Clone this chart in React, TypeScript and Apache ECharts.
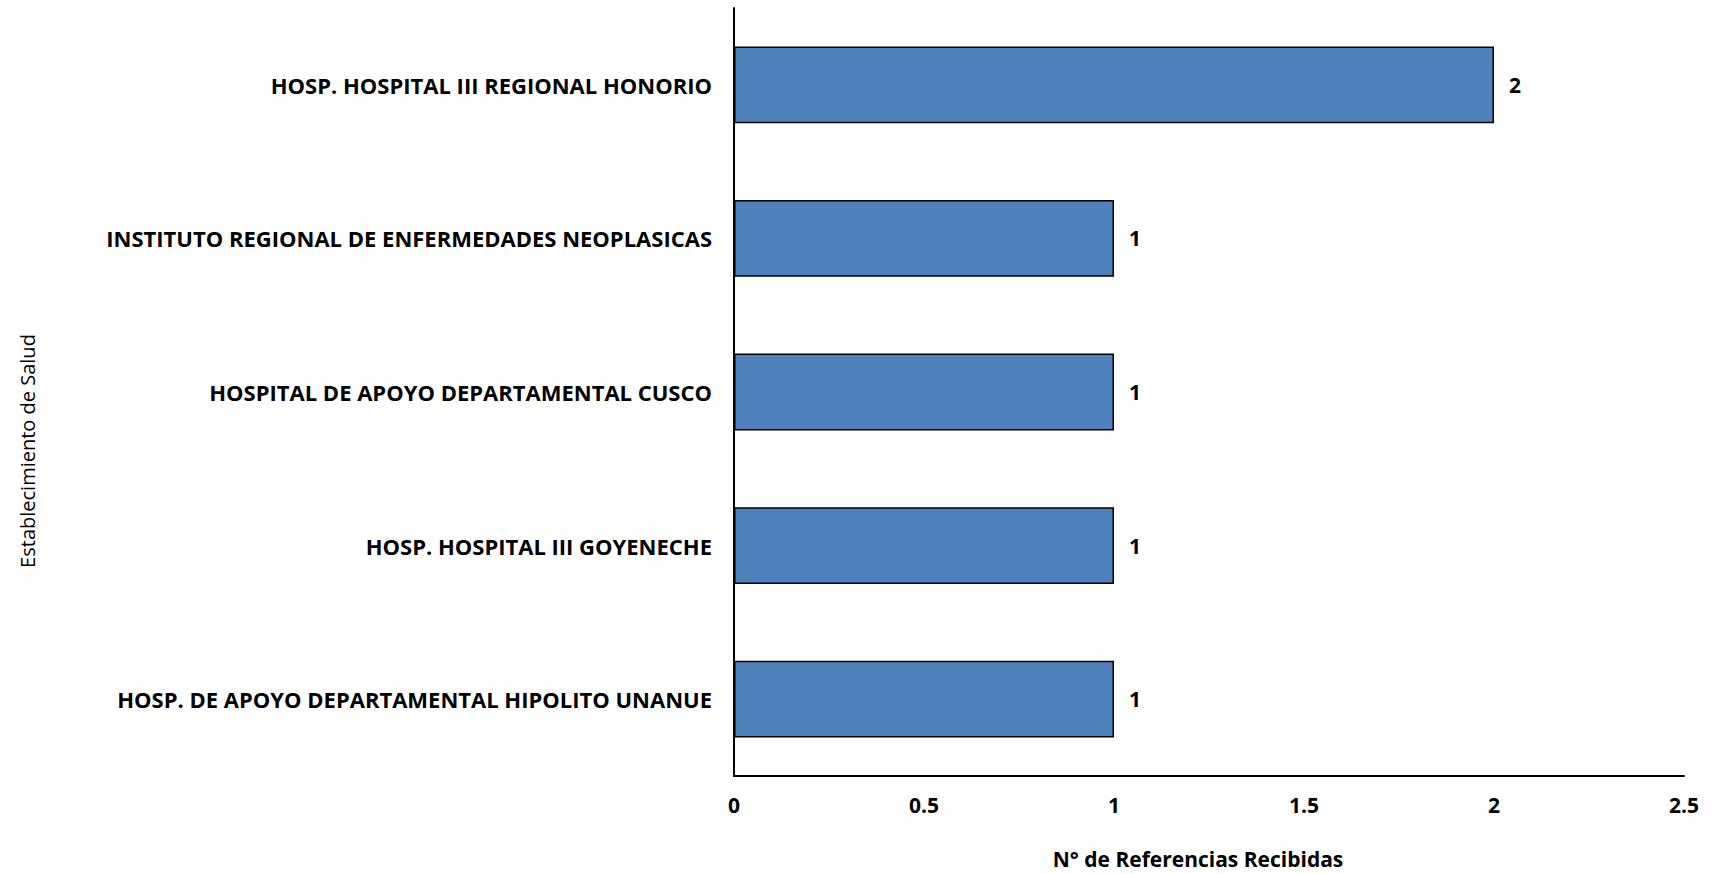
import React, { useEffect, useRef } from "react";
import * as echarts from "echarts";

const categories = [
  "HOSP. HOSPITAL III REGIONAL HONORIO",
  "INSTITUTO REGIONAL DE ENFERMEDADES NEOPLASICAS",
  "HOSPITAL DE APOYO DEPARTAMENTAL CUSCO",
  "HOSP. HOSPITAL III GOYENECHE",
  "HOSP. DE APOYO DEPARTAMENTAL HIPOLITO UNANUE",
];
const values = [2, 1, 1, 1, 1];
const xTicks = { min: 0, max: 2.5, interval: 0.5 };
const xTitle = "N° de Referencias Recibidas";
const yTitle = "Establecimiento de Salud";

const FONT = "'Open Sans', 'Noto Sans', sans-serif";

export default function App() {
  const ref = useRef<HTMLDivElement>(null);
  useEffect(() => {
    if (!ref.current) return;
    const chart = echarts.init(ref.current, undefined, { renderer: "svg" });
    chart.setOption({
      animation: false,
      backgroundColor: "#ffffff",
      textStyle: { fontFamily: FONT },
      grid: { left: 734, right: 27, top: 8, bottom: 95, containLabel: false },
      xAxis: {
        type: "value",
        min: xTicks.min,
        max: xTicks.max,
        interval: xTicks.interval,
        axisLine: { show: true, lineStyle: { color: "#000", width: 2 } },
        axisTick: { show: false },
        splitLine: { show: false },
        axisLabel: {
          color: "#000",
          fontWeight: "bold",
          fontSize: 21,
          fontFamily: FONT,
          margin: 18,
        },
        name: xTitle,
        nameLocation: "middle",
        nameGap: 72,
        nameTextStyle: {
          color: "#000",
          fontWeight: "bold",
          fontSize: 21,
          fontFamily: FONT,
          padding: [0, 22, 0, 0],
        },
      },
      yAxis: {
        type: "category",
        data: categories,
        inverse: true,
        axisLine: { show: true, lineStyle: { color: "#000", width: 2 } },
        axisTick: { show: false },
        splitLine: { show: false },
        axisLabel: {
          color: "#000",
          fontWeight: "bold",
          fontSize: 22,
          fontFamily: FONT,
          margin: 22,
        },
      },
      graphic: [
        {
          type: "text",
          x: 27,
          y: 451,
          rotation: Math.PI / 2,
          style: {
            text: yTitle,
            fill: "#000",
            font: `20px ${FONT}`,
            align: "center",
            verticalAlign: "middle",
          },
        },
      ],
      series: [
        {
          type: "bar",
          data: values,
          barCategoryGap: "50%",
          itemStyle: { color: "#4F81BD", borderColor: "#000", borderWidth: 1.5 },
          label: {
            show: true,
            position: "right",
            distance: 15,
            color: "#000",
            fontWeight: "bold",
            fontSize: 21,
            fontFamily: FONT,
          },
        },
      ],
    });
    return () => chart.dispose();
  }, []);
  return (
    <div
      ref={ref}
      style={{ position: "fixed", left: 0, top: 0, width: 1711, height: 874 }}
    />
  );
}
